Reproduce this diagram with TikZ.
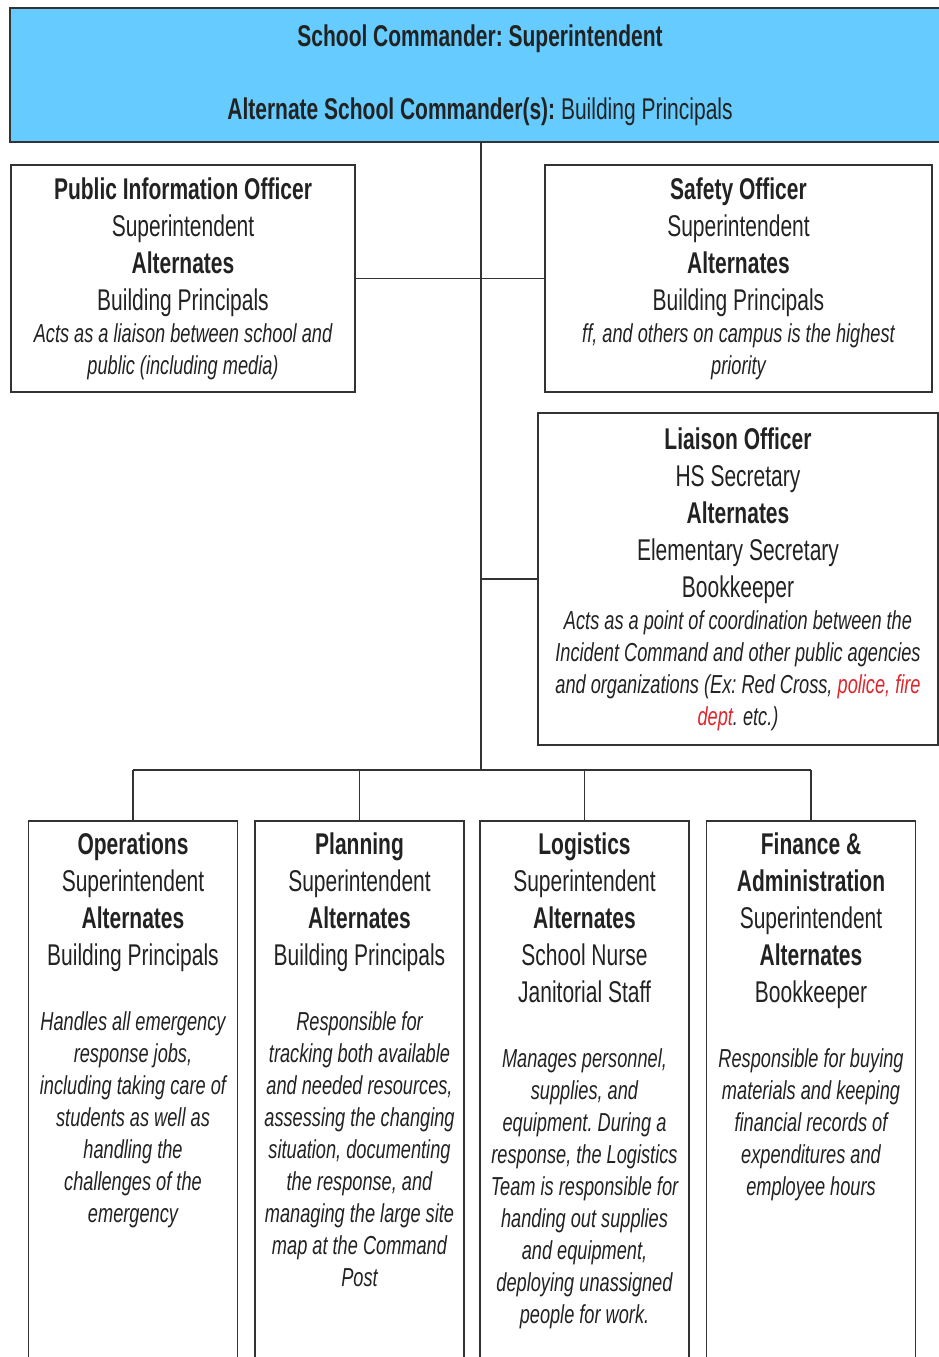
\documentclass[tikz,border=0pt]{standalone}
\usepackage{fontspec}
\setmainfont{Liberation Sans}[FakeStretch=0.70]

\definecolor{hdrblue}{RGB}{102,204,255}
\definecolor{inkgray}{RGB}{34,34,34}
\definecolor{rulegray}{RGB}{51,51,51}
\definecolor{notered}{RGB}{222,38,45}

\newcommand{\rolefont}{\fontsize{30}{37}\selectfont}
\newcommand{\notefont}{\fontsize{26}{32}\selectfont\itshape}

\tikzset{
  role box/.style={draw=rulegray, line width=1.5pt, text=inkgray, align=flush center, font=\rolefont, inner xsep=2pt},
  section box/.style={role box, anchor=north, text width=205pt, inner ysep=12pt, text depth=560pt},
  link/.style={draw=rulegray, line width=1.2pt},
}

\begin{document}
\begin{tikzpicture}[x=1pt, y=-1pt]
    \useasboundingbox (0,0) rectangle (939,1357);
    \clip (0,0) rectangle (939,1357);
    \frenchspacing

    % command
    \node[role box, fill=hdrblue, minimum width=940pt, minimum height=134pt] (cmdr) at (480,75)
        {\textbf{School Commander: Superintendent}\\[36pt]
         \textbf{Alternate School Commander(s):} Building Principals};

    % command staff
    \node[role box, text width=336pt, minimum width=344pt, minimum height=227pt] (pio) at (183,278.5)
        {\textbf{Public Information Officer}\\ Superintendent\\ \textbf{Alternates}\\ Building Principals\par
         {\notefont Acts as a liaison between school and\\ public (including media)\par}};
    \node[role box, text width=375pt, minimum width=387pt, minimum height=227pt] (safety) at (738.5,278.5)
        {\textbf{Safety Officer}\\ Superintendent\\ \textbf{Alternates}\\ Building Principals\par
         {\notefont ff, and others on campus is the highest\\ priority\par}};
    \node[role box, text width=392pt, minimum width=400pt, minimum height=332pt] (liaison) at (738,579)
        {\textbf{Liaison Officer}\\ HS Secretary\\ \textbf{Alternates}\\ Elementary Secretary\\ Bookkeeper\par
         {\notefont Acts as a point of coordination between the\\ Incident Command and other public agencies\\
          and organizations (Ex: Red Cross, \textcolor{notered}{police, fire}\\ \textcolor{notered}{dept}. etc.)\par}};

    % general staff
    \node[section box] (ops) at (133,820)
        {\textbf{Operations}\\ Superintendent\\ \textbf{Alternates}\\ Building Principals\par\vspace{33pt}
         {\notefont Handles all emergency\\ response jobs,\\ including taking care of\\ students as well as\\
          handling the\\ challenges of the\\ emergency\par}};
    \node[section box] (plan) at (359.5,820)
        {\textbf{Planning}\\ Superintendent\\ \textbf{Alternates}\\ Building Principals\par\vspace{33pt}
         {\notefont Responsible for\\ tracking both available\\ and needed resources,\\ assessing the changing\\
          situation, documenting\\ the response, and\\ managing the large site\\ map at the Command\\ Post\par}};
    \node[section box] (logi) at (584.5,820)
        {\textbf{Logistics}\\ Superintendent\\ \textbf{Alternates}\\ School Nurse\\ Janitorial Staff\par\vspace{33pt}
         {\notefont Manages personnel,\\ supplies, and\\ equipment. During a\\ response, the Logistics\\
          Team is responsible for\\ handing out supplies\\ and equipment,\\ deploying unassigned\\ people for work.\par}};
    \node[section box] (fin) at (811,820)
        {\textbf{Finance \&}\\ \textbf{Administration}\\ Superintendent\\ \textbf{Alternates}\\ Bookkeeper\par\vspace{33pt}
         {\notefont Responsible for buying\\ materials and keeping\\ financial records of\\ expenditures and\\
          employee hours\par}};

    % links
    \coordinate (bus) at (481,770);
    \draw[link] (cmdr.south -| bus) -- (bus);
    \draw[link] (pio.east) -- (safety.west);
    \draw[link] (liaison.west) -- (liaison.west -| bus);
    \draw[link] (ops.north |- bus) -- (fin.north |- bus);
    \foreach \branch in {ops,plan,logi,fin}
        \draw[link] (\branch.north) -- (\branch.north |- bus);
\end{tikzpicture}
\end{document}
